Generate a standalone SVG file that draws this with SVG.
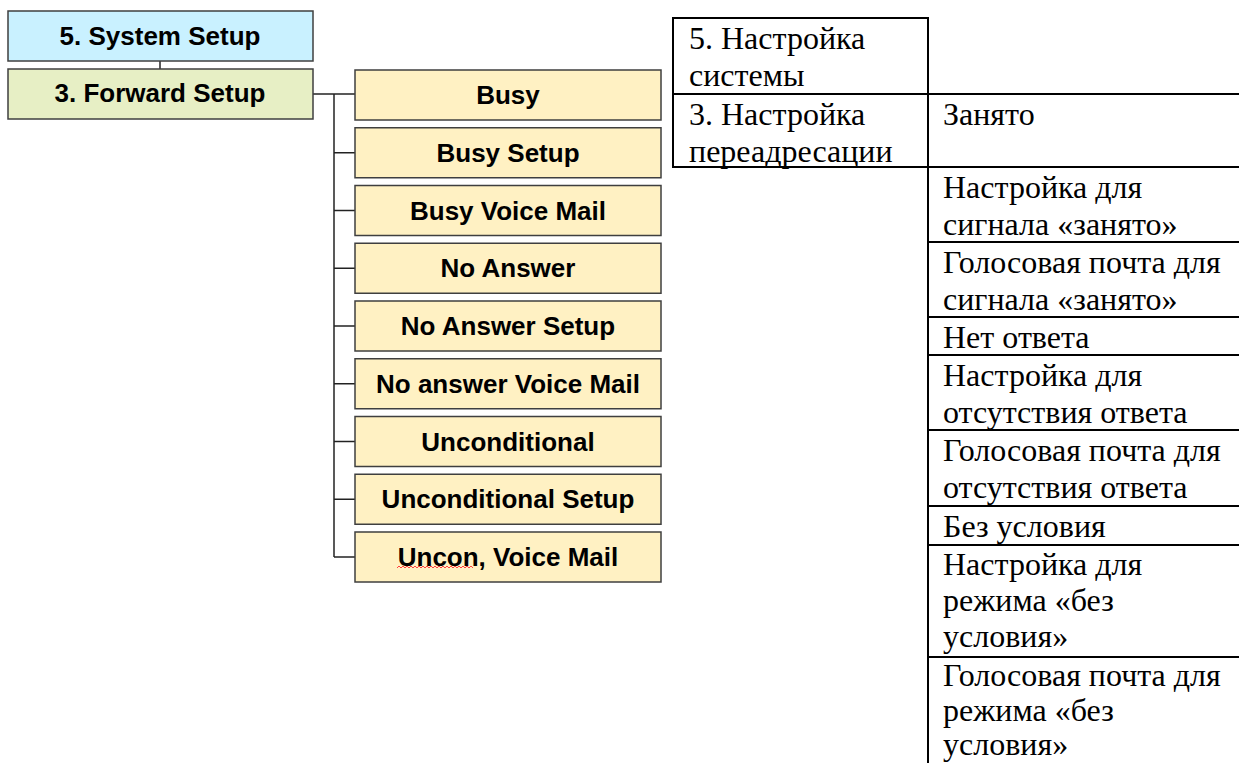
<svg xmlns="http://www.w3.org/2000/svg" width="1239" height="763" viewBox="0 0 1239 763">
<style>
.box{stroke:#3f3f3f;stroke-width:1.5}
.sys{fill:#c9f1ff}
.fwd{fill:#e7efc5}
.item{fill:#fff1c3}
.lbl{font-family:"Liberation Sans",Arial,sans-serif;font-weight:bold;font-size:26px;fill:#000;text-anchor:middle}
.conn{stroke:#222;stroke-width:1.5;fill:none}
.tl{stroke:#000;stroke-width:2;fill:none}
.tt{font-family:"Liberation Serif","Times New Roman",serif;font-size:32px;fill:#000}
</style>
<rect width="1239" height="763" fill="#fff"/>
<g id="connectors">
<line class="conn" x1="160" y1="61" x2="160" y2="69"/>
<line class="conn" x1="313" y1="94" x2="355" y2="94"/>
<line class="conn" x1="334" y1="94" x2="334" y2="557"/>
<line class="conn" x1="334" y1="152.75" x2="355" y2="152.75"/>
<line class="conn" x1="334" y1="210.5" x2="355" y2="210.5"/>
<line class="conn" x1="334" y1="268.25" x2="355" y2="268.25"/>
<line class="conn" x1="334" y1="326" x2="355" y2="326"/>
<line class="conn" x1="334" y1="383.75" x2="355" y2="383.75"/>
<line class="conn" x1="334" y1="441.5" x2="355" y2="441.5"/>
<line class="conn" x1="334" y1="499.25" x2="355" y2="499.25"/>
<line class="conn" x1="334" y1="557" x2="355" y2="557"/>
</g>
<g id="system-setup"><rect class="box sys" x="8" y="11" width="305" height="50"/><text class="lbl" x="160" y="45">5. System Setup</text></g>
<g id="forward-setup"><rect class="box fwd" x="8" y="69" width="305" height="50"/><text class="lbl" x="160" y="102">3. Forward Setup</text></g>
<g id="busy"><rect class="box item" x="355" y="70" width="306" height="50"/><text class="lbl" x="508" y="104">Busy</text></g>
<g id="busy-setup"><rect class="box item" x="355" y="127.75" width="306" height="50"/><text class="lbl" x="508" y="161.75">Busy Setup</text></g>
<g id="busy-voice-mail"><rect class="box item" x="355" y="185.5" width="306" height="50"/><text class="lbl" x="508" y="219.5">Busy Voice Mail</text></g>
<g id="no-answer"><rect class="box item" x="355" y="243.25" width="306" height="50"/><text class="lbl" x="508" y="277.25">No Answer</text></g>
<g id="no-answer-setup"><rect class="box item" x="355" y="301" width="306" height="50"/><text class="lbl" x="508" y="335">No Answer Setup</text></g>
<g id="no-answer-voice-mail"><rect class="box item" x="355" y="358.75" width="306" height="50"/><text class="lbl" x="508" y="392.75">No answer Voice Mail</text></g>
<g id="unconditional"><rect class="box item" x="355" y="416.5" width="306" height="50"/><text class="lbl" x="508" y="450.5">Unconditional</text></g>
<g id="unconditional-setup"><rect class="box item" x="355" y="474.25" width="306" height="50"/><text class="lbl" x="508" y="508.25">Unconditional Setup</text></g>
<g id="uncon-voice-mail"><rect class="box item" x="355" y="532" width="306" height="50"/><text class="lbl" x="508" y="566">Uncon, Voice Mail</text>
<path d="M397 568 l2 -2 l2 2 l2 -2 l2 2 l2 -2 l2 2 l2 -2 l2 2 l2 -2 l2 2 l2 -2 l2 2 l2 -2 l2 2 l2 -2 l2 2 l2 -2 l2 2 l2 -2 l2 2 l2 -2 l2 2 l2 -2 l2 2 l2 -2 l2 2 l2 -2 l2 2 l2 -2 l2 2 l2 -2 l2 2 l2 -2 l2 2 l2 -2 l2 2 l2 -2 l2 2" fill="none" stroke="#ff4040" stroke-width="1"/></g>
<g id="table">
<line class="tl" x1="673" y1="18" x2="929" y2="18"/>
<line class="tl" x1="673" y1="17" x2="673" y2="168"/>
<line class="tl" x1="928" y1="17" x2="928" y2="763"/>
<line class="tl" x1="672" y1="94" x2="1239" y2="94"/>
<line class="tl" x1="672" y1="167" x2="1239" y2="167"/>
<line class="tl" x1="928" y1="242" x2="1239" y2="242"/>
<line class="tl" x1="928" y1="317" x2="1239" y2="317"/>
<line class="tl" x1="928" y1="355" x2="1239" y2="355"/>
<line class="tl" x1="928" y1="430" x2="1239" y2="430"/>
<line class="tl" x1="928" y1="506" x2="1239" y2="506"/>
<line class="tl" x1="928" y1="545" x2="1239" y2="545"/>
<line class="tl" x1="928" y1="657" x2="1239" y2="657"/>
<text class="tt" x="689" y="49">5. Настройка</text>
<text class="tt" x="689" y="86">системы</text>
<text class="tt" x="689" y="125">3. Настройка</text>
<text class="tt" x="689" y="162">переадресации</text>
<text class="tt" x="943" y="125">Занято</text>
<text class="tt" x="943" y="198">Настройка для</text>
<text class="tt" x="943" y="235">сигнала «занято»</text>
<text class="tt" x="943" y="273">Голосовая почта для</text>
<text class="tt" x="943" y="310">сигнала «занято»</text>
<text class="tt" x="943" y="348">Нет ответа</text>
<text class="tt" x="943" y="386">Настройка для</text>
<text class="tt" x="943" y="423">отсутствия ответа</text>
<text class="tt" x="943" y="461">Голосовая почта для</text>
<text class="tt" x="943" y="498">отсутствия ответа</text>
<text class="tt" x="943" y="537">Без условия</text>
<text class="tt" x="943" y="575">Настройка для</text>
<text class="tt" x="943" y="611">режима «без</text>
<text class="tt" x="943" y="647">условия»</text>
<text class="tt" x="943" y="686">Голосовая почта для</text>
<text class="tt" x="943" y="721">режима «без</text>
<text class="tt" x="943" y="755">условия»</text>
</g>
</svg>
